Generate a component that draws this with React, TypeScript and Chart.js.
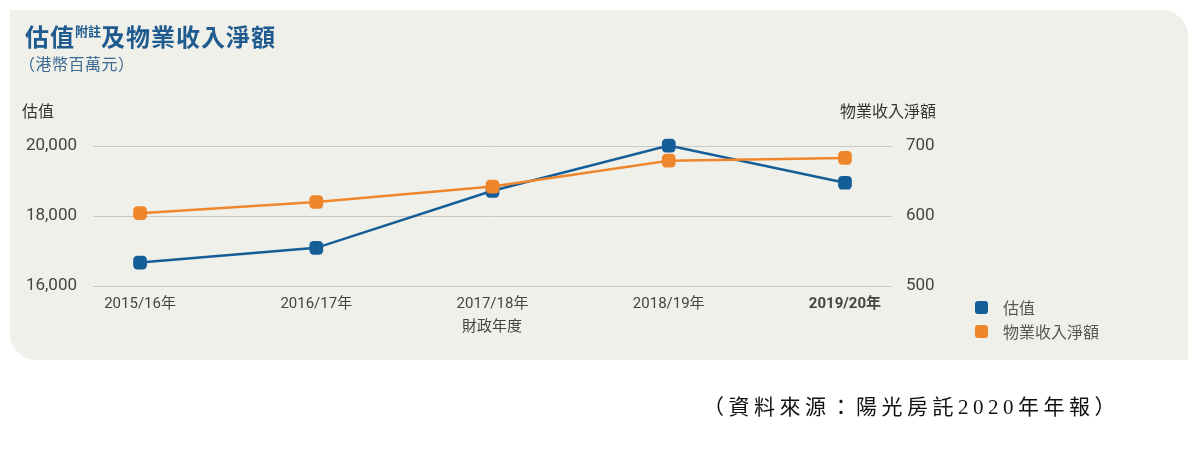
import React, { useEffect, useRef } from "react";
import { Chart, registerables } from "chart.js";

Chart.register(...registerables);

const categories = ["2015/16年", "2016/17年", "2017/18年", "2018/19年", "2019/20年"];
const valuation = [16670, 17090, 18720, 20010, 18950];
const netPropertyIncome = [604, 620, 642, 679, 683];
const leftTicks = [16000, 18000, 20000];
const rightTicks = [500, 600, 700];

const BLUE = "#145d97";
const ORANGE = "#f0862b";
const BG = "#f0f0eb";
const CJK = "Roboto, 'Noto Sans CJK TC', sans-serif";

export default function App() {
  const ref = useRef<HTMLCanvasElement | null>(null);

  useEffect(() => {
    document.body.style.margin = "0";
    const canvas = ref.current;
    if (!canvas) return;
    const chart = new Chart(canvas, {
      type: "line",
      data: {
        datasets: [
          {
            label: "估值",
            data: valuation.map((v, i) => ({ x: i, y: v })),
            borderColor: BLUE,
            backgroundColor: BLUE,
            borderWidth: 2.5,
            pointStyle: "rectRounded",
            pointRadius: 8,
            pointBorderWidth: 0,
            yAxisID: "y",
            order: 2,
            clip: false,
          },
          {
            label: "物業收入淨額",
            data: netPropertyIncome.map((v, i) => ({ x: i, y: v })),
            borderColor: ORANGE,
            backgroundColor: ORANGE,
            borderWidth: 2.5,
            pointStyle: "rectRounded",
            pointRadius: 8,
            pointBorderWidth: 0,
            yAxisID: "y1",
            order: 1,
            clip: false,
          },
        ],
      },
      options: {
        animation: false,
        responsive: false,
        maintainAspectRatio: false,
        layout: { padding: { top: 146, bottom: 0, left: 0, right: 0 } },
        plugins: { legend: { display: false }, tooltip: { enabled: false }, title: { display: false } },
        scales: {
          x: {
            type: "linear",
            min: -0.267,
            max: 4.267,
            grid: { display: false, drawTicks: false },
            border: { display: false },
            afterFit: (s: any) => { s.height = 163; },
            ticks: {
              stepSize: 1,
              includeBounds: false,
              autoSkip: false,
              maxRotation: 0,
              padding: 9,
              color: "#444",
              font: (ctx: any) => ({
                family: CJK,
                size: 15,
                weight: ctx.index === categories.length - 1 ? "bold" : "normal",
              }),
              callback: (v: any) => (Number.isInteger(v) ? categories[v] ?? "" : ""),
            },
          },
          y: {
            position: "left",
            min: leftTicks[0],
            max: leftTicks[leftTicks.length - 1],
            afterFit: (s: any) => { s.width = 93; },
            afterBuildTicks: (s: any) => { s.ticks = leftTicks.map((v) => ({ value: v })); },
            grid: { color: "#c9c9c5", lineWidth: 1, drawTicks: false },
            border: { display: false },
            ticks: {
              padding: 16,
              color: "#444",
              font: { family: CJK, size: 17 },
              callback: (v: any) => Number(v).toLocaleString("en-US"),
            },
          },
          y1: {
            position: "right",
            min: rightTicks[0],
            max: rightTicks[rightTicks.length - 1],
            afterFit: (s: any) => { s.width = 1200 - 892; },
            afterBuildTicks: (s: any) => { s.ticks = rightTicks.map((v) => ({ value: v })); },
            grid: { drawOnChartArea: false, drawTicks: false },
            border: { display: false },
            ticks: {
              padding: 14,
              color: "#444",
              font: { family: CJK, size: 17 },
            },
          },
        },
      },
    });
    return () => chart.destroy();
  }, []);

  const sans = "'Noto Sans CJK TC', Roboto, sans-serif";

  return (
    <div style={{ position: "relative", width: 1200, height: 449, background: "#fff", overflow: "hidden", fontFamily: sans }}>
      <div
        style={{
          position: "absolute",
          left: 10,
          top: 10,
          width: 1178,
          height: 350,
          background: BG,
          borderTopRightRadius: 26,
          borderBottomLeftRadius: 26,
        }}
      />
      <canvas ref={ref} width={1200} height={449} style={{ position: "absolute", left: 0, top: 0, width: 1200, height: 449 }} />
      <div style={{ position: "absolute", left: 25, top: 20, color: "#1f5b8e", fontWeight: 700, fontSize: 24, lineHeight: "32px", letterSpacing: 1, whiteSpace: "nowrap", fontFamily: "'Noto Sans CJK TC', serif" }}>
        估值<sup style={{ fontSize: 13, verticalAlign: "top", position: "relative", top: -5, letterSpacing: 0 }}>附註</sup>及物業收入淨額
      </div>
      <div style={{ position: "absolute", left: 19, top: 52, color: "#3d6a91", fontSize: 16, lineHeight: "22px", letterSpacing: 0.5, whiteSpace: "nowrap" }}>
        （港幣百萬元）
      </div>
      <div style={{ position: "absolute", left: 22, top: 99, color: "#333", fontSize: 16, lineHeight: "22px" }}>估值</div>
      <div style={{ position: "absolute", right: 1200 - 936, top: 99, color: "#333", fontSize: 16, lineHeight: "22px", whiteSpace: "nowrap" }}>
        物業收入淨額
      </div>
      <div style={{ position: "absolute", left: 452, top: 314, width: 80, textAlign: "center", color: "#444", fontSize: 15, lineHeight: "22px" }}>
        財政年度
      </div>
      <div style={{ position: "absolute", left: 975, top: 295, color: "#555", fontSize: 16, lineHeight: "24px" }}>
        {[
          { label: "估值", color: BLUE },
          { label: "物業收入淨額", color: ORANGE },
        ].map((d) => (
          <div key={d.label} style={{ display: "flex", alignItems: "center", height: 24 }}>
            <span style={{ display: "inline-block", width: 13, height: 13, borderRadius: 3, background: d.color, marginRight: 15 }} />
            <span>{d.label}</span>
          </div>
        ))}
      </div>
      <div style={{ position: "absolute", left: 703, top: 393, color: "#111", fontSize: 21, lineHeight: "28px", letterSpacing: 4.5, whiteSpace: "nowrap", fontFamily: "'Liberation Serif', 'Noto Sans CJK TC', serif" }}>
        （資料來源：陽光房託2020年年報）
      </div>
    </div>
  );
}
